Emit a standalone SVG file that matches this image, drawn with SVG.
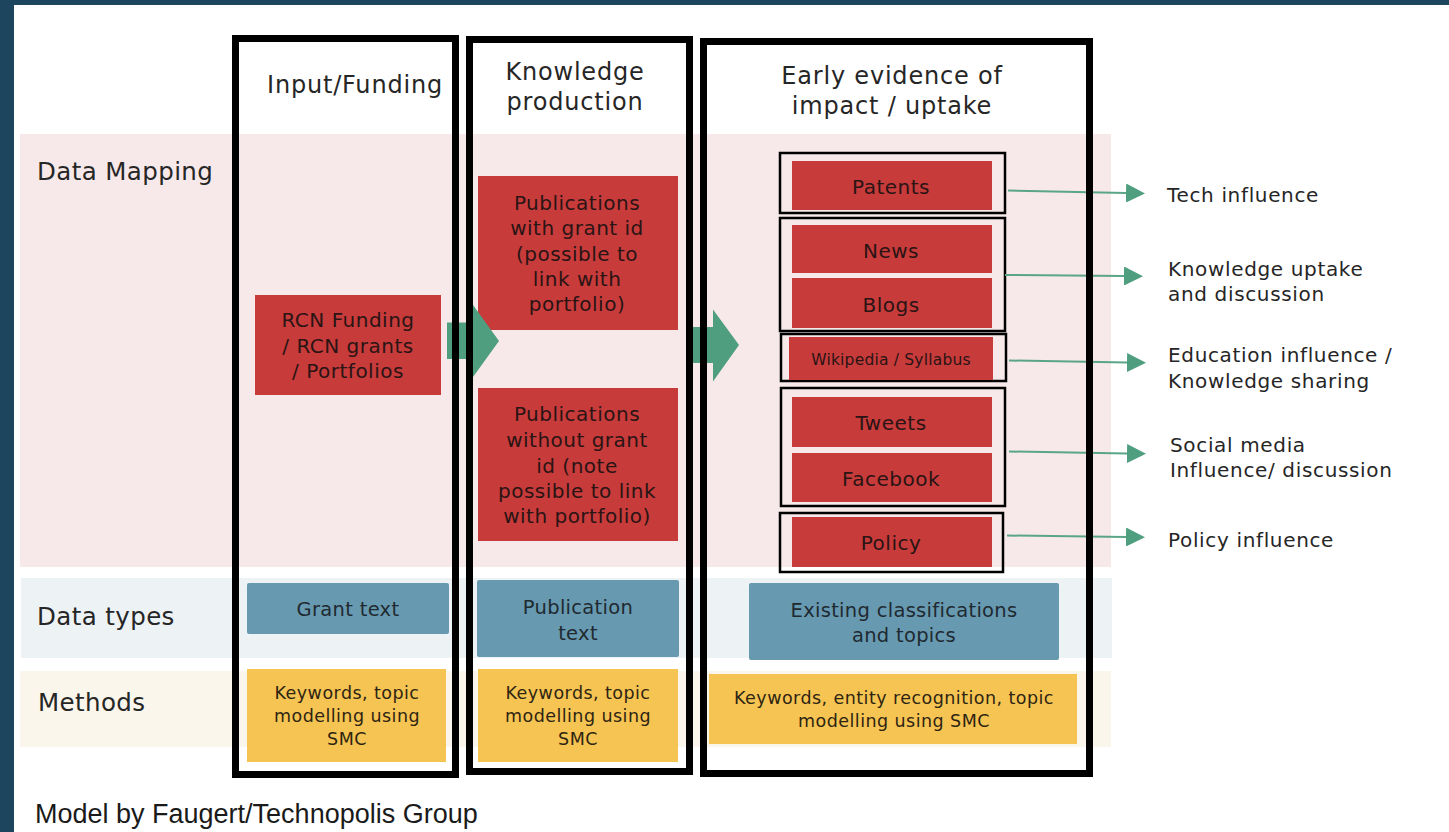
<svg xmlns="http://www.w3.org/2000/svg" width="1449" height="832" viewBox="0 0 1449 832">
  <defs>
    <style>
      .g { font-family: "DejaVu Sans", "Liberation Sans", sans-serif; fill: #262626; }
      .hdr { font-size: 24px; letter-spacing: 0.8px; text-anchor: middle; }
      .row { font-size: 24.5px; letter-spacing: 0.4px; }
      .red { fill: #c73b3b; }
      .rt { font-size: 20px; letter-spacing: 0.5px; text-anchor: middle; fill: #2a1414; }
      .blue { fill: #6799b1; }
      .bt { font-size: 19.5px; letter-spacing: 0.3px; text-anchor: middle; fill: #1f2a30; }
      .yel { fill: #f6c453; }
      .yt { font-size: 17.5px; letter-spacing: 0.45px; text-anchor: middle; fill: #2e2412; }
      .lbl { font-size: 20px; letter-spacing: 0.65px; }
      .frame { fill: none; stroke: #000; stroke-width: 7; }
      .grp { fill: none; stroke: #000; stroke-width: 2.5; }
      .big { fill: #4e9e7f; }
      .link { fill: none; stroke: #5aa588; stroke-width: 2; marker-end: url(#tri); }
    </style>
    <marker id="tri" markerWidth="19" markerHeight="19" refX="0" refY="9.5" orient="auto" markerUnits="userSpaceOnUse">
      <path d="M0,0 L19,9.5 L0,19 Z" fill="#4e9e7f"/>
    </marker>
  </defs>

  <!-- page -->
  <rect x="0" y="0" width="1449" height="832" fill="#ffffff"/>
  <rect x="0" y="0" width="1449" height="5" fill="#1d465e"/>
  <rect x="0" y="0" width="14" height="832" fill="#1d465e"/>

  <!-- row bands -->
  <g id="bands">
    <rect x="20" y="134" width="1091" height="433" fill="#f7e9e9"/>
    <rect x="21" y="578" width="1091" height="80" fill="#edf2f5"/>
    <rect x="20" y="671" width="1091" height="76" fill="#fbf6ec"/>
  </g>

  <!-- row labels -->
  <g id="row-labels" class="g row">
    <text x="37" y="180">Data Mapping</text>
    <text x="37" y="625">Data types</text>
    <text x="38" y="711">Methods</text>
  </g>

  <!-- input / funding column -->
  <g id="rcn-funding">
    <rect class="red" x="255" y="295" width="186" height="100"/>
    <text class="g rt" x="348" y="327">RCN Funding</text>
    <text class="g rt" x="348" y="353">/ RCN grants</text>
    <text class="g rt" x="348" y="378">/ Portfolios</text>
  </g>
  <g id="grant-text">
    <rect class="blue" x="247" y="583" width="202" height="51" rx="2"/>
    <text class="g bt" x="348" y="616">Grant text</text>
  </g>
  <g id="methods-funding">
    <rect class="yel" x="247" y="669" width="199" height="93"/>
    <text class="g yt" x="347" y="699">Keywords, topic</text>
    <text class="g yt" x="347" y="722">modelling using</text>
    <text class="g yt" x="347" y="745">SMC</text>
  </g>

  <!-- knowledge production column -->
  <g id="pubs-with-id">
    <rect class="red" x="478" y="176" width="200" height="154"/>
    <text class="g rt" x="577" y="210">Publications</text>
    <text class="g rt" x="577" y="235">with grant id</text>
    <text class="g rt" x="577" y="261">(possible to</text>
    <text class="g rt" x="577" y="286">link with</text>
    <text class="g rt" x="577" y="311">portfolio)</text>
  </g>
  <g id="pubs-without-id">
    <rect class="red" x="478" y="388" width="200" height="153"/>
    <text class="g rt" x="577" y="421">Publications</text>
    <text class="g rt" x="577" y="447">without grant</text>
    <text class="g rt" x="577" y="473">id (note</text>
    <text class="g rt" x="577" y="498">possible to link</text>
    <text class="g rt" x="577" y="523">with portfolio)</text>
  </g>
  <g id="publication-text">
    <rect class="blue" x="477" y="580" width="202" height="77" rx="2"/>
    <text class="g bt" x="578" y="614">Publication</text>
    <text class="g bt" x="578" y="640">text</text>
  </g>
  <g id="methods-publications">
    <rect class="yel" x="478" y="669" width="200" height="93"/>
    <text class="g yt" x="578" y="699">Keywords, topic</text>
    <text class="g yt" x="578" y="722">modelling using</text>
    <text class="g yt" x="578" y="745">SMC</text>
  </g>

  <!-- early evidence column -->
  <g id="patents">
    <rect class="grp" x="780" y="153" width="225" height="60"/>
    <rect class="red" x="792" y="161" width="200" height="49"/>
    <text class="g rt" x="891" y="194">Patents</text>
  </g>
  <g id="news-blogs">
    <rect class="grp" x="780" y="218" width="225" height="113"/>
    <rect class="red" x="792" y="225" width="200" height="48"/>
    <text class="g rt" x="891" y="258">News</text>
    <rect class="red" x="792" y="278" width="200" height="50"/>
    <text class="g rt" x="891" y="312">Blogs</text>
  </g>
  <g id="wikipedia">
    <rect class="grp" x="781" y="334" width="225" height="47"/>
    <rect class="red" x="789" y="337" width="204" height="43"/>
    <text class="g rt" x="891" y="365" style="font-size:15.5px;letter-spacing:0.2px">Wikipedia / Syllabus</text>
  </g>
  <g id="social">
    <rect class="grp" x="781" y="388" width="224" height="118"/>
    <rect class="red" x="792" y="397" width="200" height="50"/>
    <text class="g rt" x="891" y="430">Tweets</text>
    <rect class="red" x="792" y="453" width="200" height="49"/>
    <text class="g rt" x="891" y="486">Facebook</text>
  </g>
  <g id="policy">
    <rect class="grp" x="780" y="513" width="223" height="59"/>
    <rect class="red" x="792" y="517" width="200" height="50"/>
    <text class="g rt" x="891" y="550">Policy</text>
  </g>
  <g id="existing-classifications">
    <rect class="blue" x="749" y="583" width="310" height="77" rx="2"/>
    <text class="g bt" x="904" y="617">Existing classifications</text>
    <text class="g bt" x="904" y="642">and topics</text>
  </g>
  <g id="methods-evidence">
    <rect class="yel" x="709" y="674" width="368" height="70"/>
    <text class="g yt" x="894" y="704">Keywords, entity recognition, topic</text>
    <text class="g yt" x="894" y="727">modelling using SMC</text>
  </g>

  <!-- flow arrows and outcome links -->
  <g id="connectors">
    <polygon class="big" points="447,322.5 473,322.5 473,305 499,341 473,377 473,359 447,359"/>
    <polygon class="big" points="687,327 713,327 713,309.5 739,345 713,381.5 713,363 687,363"/>
    <path class="link" d="M1008,190.5 L1126,193"/>
    <path class="link" d="M1005,275 L1124,276"/>
    <path class="link" d="M1009,360.5 L1127,362.5"/>
    <path class="link" d="M1009,451.5 L1127,453.5"/>
    <path class="link" d="M1007,535.5 L1126,537"/>
  </g>

  <!-- stage columns -->
  <g id="col-input">
    <rect class="frame" x="235.5" y="38.5" width="220" height="736"/>
    <text class="g hdr" x="355" y="93">Input/Funding</text>
  </g>
  <g id="col-knowledge">
    <rect class="frame" x="469.5" y="39.5" width="220" height="732"/>
    <text class="g hdr" x="575" y="80">Knowledge</text>
    <text class="g hdr" x="575" y="110">production</text>
  </g>
  <g id="col-impact">
    <rect class="frame" x="703.5" y="41.5" width="386" height="732"/>
    <text class="g hdr" x="892" y="84">Early evidence of</text>
    <text class="g hdr" x="892" y="114">impact / uptake</text>
  </g>

  <!-- outcome labels -->
  <g id="outcomes" class="g lbl">
    <text x="1167" y="202">Tech influence</text>
    <text x="1168" y="276">Knowledge uptake</text>
    <text x="1168" y="301">and discussion</text>
    <text x="1168" y="362">Education influence /</text>
    <text x="1168" y="388">Knowledge sharing</text>
    <text x="1170" y="452">Social media</text>
    <text x="1170" y="477">Influence/ discussion</text>
    <text x="1168" y="547">Policy influence</text>
  </g>

  <text x="35" y="823" font-family="Liberation Sans, Arial, sans-serif" font-size="27" fill="#1a1a1a">Model by Faugert/Technopolis Group</text>
</svg>
